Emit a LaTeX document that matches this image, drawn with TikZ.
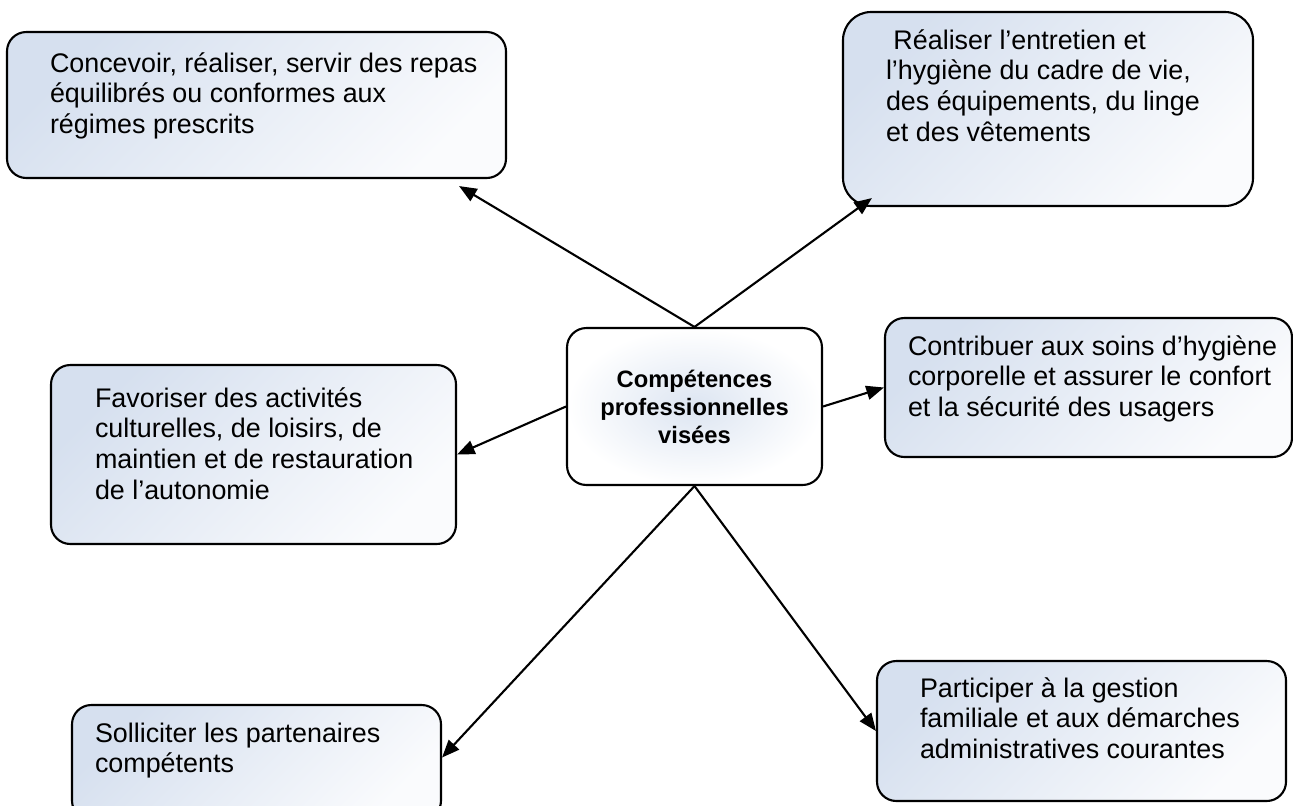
\documentclass[tikz,border=0pt]{standalone}
\usepackage{fontspec}
\setmainfont{Liberation Sans}
\usetikzlibrary{arrows.meta,calc,positioning}

\definecolor{fond}{RGB}{214,224,239}
\definecolor{clair}{RGB}{250,251,253}
\newdimen\unitpx \unitpx=0.02cm
\newcommand{\bloc}[5]{\parbox[c][#2\unitpx][t]{#1\unitpx}{\vskip\dimexpr#3\unitpx-\baselineskip\relax\prevdepth=0pt
  \leftskip=#4\unitpx\rightskip=0pt plus 1fil\parindent=0pt\parfillskip=0pt plus 1fil\relax #5}}

\tikzset{
  carte/.style={draw=black, line width=1.2pt, rounded corners=11pt, top color=fond, bottom color=clair, shading angle=45, inner sep=0pt, font=\fontsize{15.3}{17.6}\selectfont},
  centrale/.style={draw=black, line width=1.2pt, rounded corners=11pt, inner color=fond!85!white, outer color=white, minimum width=5.1cm, minimum height=3.14cm, align=center, font=\bfseries\fontsize{13.5}{15.9}\selectfont},
  fleche/.style={-{Triangle[length=10pt,width=8pt]}, line width=1.2pt}
}

\begin{document}
\begin{tikzpicture}[x=0.02cm,y=-0.02cm]
  \useasboundingbox (0,0) rectangle (1293,805);
  \clip (0,0) rectangle (1293,805);
  \node[centrale] (centre) at (694.5,406.5) {Compétences\\professionnelles\\visées};
  \node[carte] (repas) at (256.5,105) {\bloc{499}{146}{40}{43}{Concevoir, réaliser, servir des repas\\équilibrés ou conformes aux\\régimes prescrits}};
  \node[carte, rounded corners=16pt] (entretien) at (1048,109) {\bloc{410}{194}{37}{43}{\hspace*{.278em}Réaliser l’entretien et\\l’hygiène du cadre de vie,\\des équipements, du linge\\et des vêtements}};
  \node[carte] (soins) at (1088.5,387.5) {\bloc{407}{139}{37}{23}{Contribuer aux soins d’hygiène\\corporelle et assurer le confort\\et la sécurité des usagers}};
  \node[carte] (loisirs) at (253.5,454.5) {\bloc{405}{179}{42}{44}{Favoriser des activités\\culturelles, de loisirs, de\\maintien et de restauration\\de l’autonomie}};
  \node[carte] (partenaires) at (256.5,762.5) {\bloc{369}{115}{37}{23}{Solliciter les partenaires\\compétents}};
  \node[carte] (gestion) at (1081.5,731) {\bloc{409}{140}{36}{43}{Participer à la gestion\\familiale et aux démarches\\administratives courantes}};

  \draw[fleche] (centre.north) -- ($(repas.south east)+(-48,7)$);
  \draw[fleche] (centre.north) -- ($(entretien.south west)+(30,-9)$);
  \draw[fleche] (centre.west) -- (loisirs.east);
  \draw[fleche] (centre.east) -- (soins.west);
  \draw[fleche] (centre.south) -- ($(partenaires.east)+(0,-5)$);
  \draw[fleche] (centre.south) -- (gestion.west);
\end{tikzpicture}
\end{document}
